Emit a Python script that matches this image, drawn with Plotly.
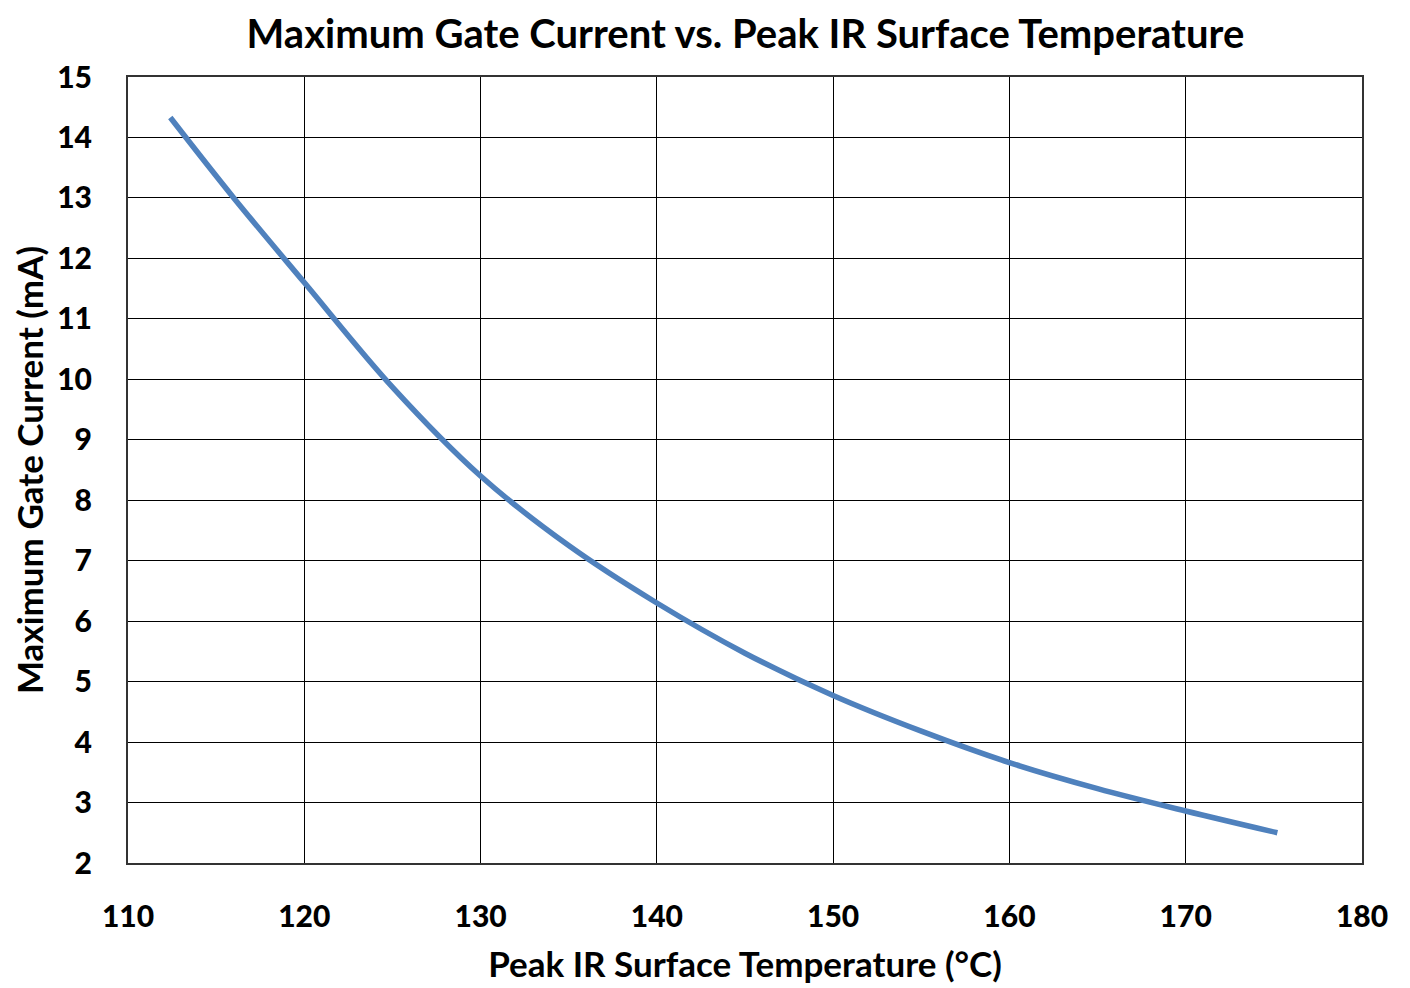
import plotly.graph_objects as go

# values
temperature_c = [112.4, 116.0, 120.0, 125.0, 130.0, 135.0, 140.0,
                 145.0, 150.0, 155.0, 160.0, 165.0, 170.0, 175.2]
gate_current_ma = [14.33, 13.0, 11.6, 9.87, 8.4, 7.25, 6.3,
                   5.47, 4.77, 4.18, 3.66, 3.23, 2.86, 2.5]

FONT = "Lato"

fig = go.Figure(
    go.Scatter(
        x=temperature_c,
        y=gate_current_ma,
        mode="lines",
        line=dict(color="#4F81BD", width=5.5, shape="spline", smoothing=1.0),
        showlegend=False,
    )
)

axis_common = dict(
    showgrid=True,
    gridcolor="black",
    gridwidth=1,
    showline=True,
    linecolor="#333333",
    linewidth=2,
    mirror=True,
    ticks="",
    zeroline=False,
    tickfont=dict(family=FONT, size=30, color="black", weight=900),
)

fig.update_layout(
    width=1410,
    height=988,
    paper_bgcolor="white",
    plot_bgcolor="white",
    margin=dict(l=120, r=56, t=69, b=133),
    title=dict(
        text="<b>Maximum Gate Current vs. Peak IR Surface Temperature</b>",
        x=0.523,
        xanchor="center",
        y=0.974,
        yanchor="middle",
        font=dict(family=FONT, size=40, color="black"),
    ),
    xaxis=dict(
        range=[110, 180],
        dtick=10,
        title=dict(text="<b>Peak IR Surface Temperature (°C)</b>",
                   font=dict(family=FONT, size=35, color="black"), standoff=20),
        ticklabelstandoff=26,
        **axis_common,
    ),
    yaxis=dict(
        range=[2, 15],
        dtick=1,
        title=dict(text="<b>Maximum Gate Current (mA)</b>",
                   font=dict(family=FONT, size=35, color="black"), standoff=14),
        ticklabelstandoff=28,
        **axis_common,
    ),
)

fig.write_html("out.html")
